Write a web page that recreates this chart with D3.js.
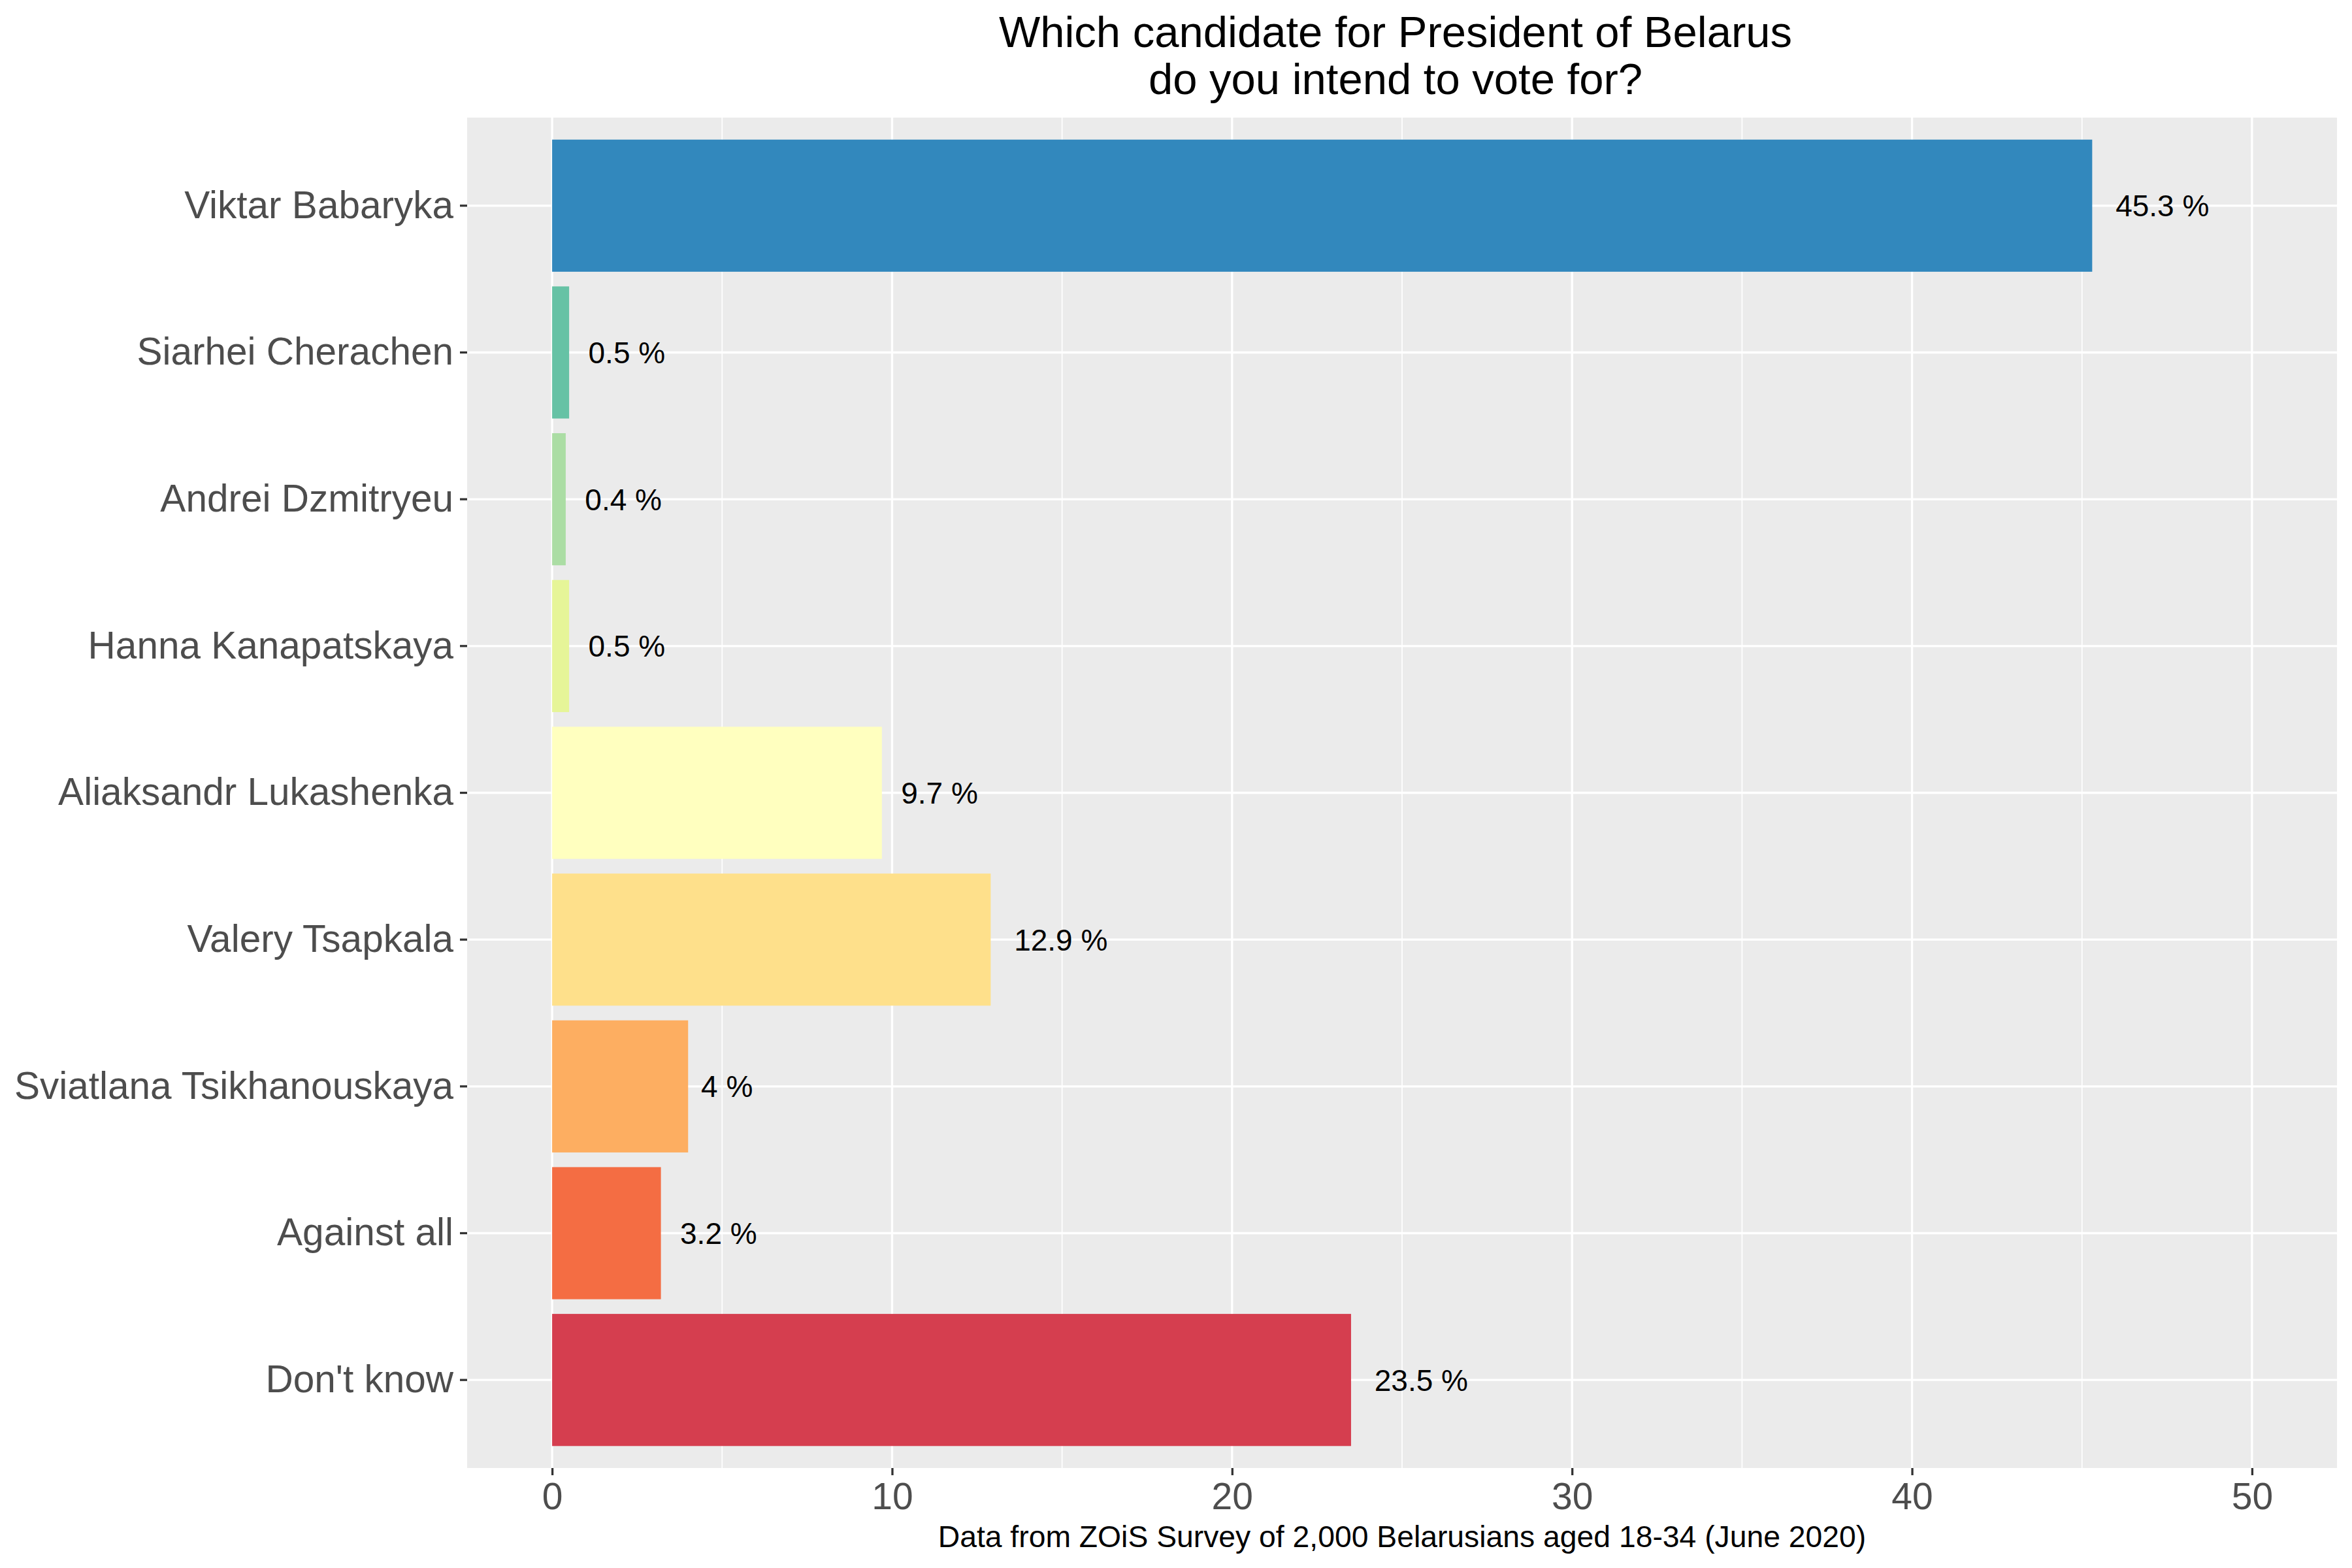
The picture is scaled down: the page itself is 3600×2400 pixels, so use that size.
<!DOCTYPE html>
<html>
<head>
<meta charset="utf-8">
<script src="https://cdn.jsdelivr.net/npm/d3@7"></script>
<style>
    body { margin: 0; background: #fff; }
    svg { display: block; font-family: "Liberation Sans", Arial, sans-serif; }
</style>
</head>
<body>
<svg id="chart"></svg>
<script>
// Data
const candidates = ["Viktar Babaryka", "Siarhei Cherachen", "Andrei Dzmitryeu", "Hanna Kanapatskaya",
    "Aliaksandr Lukashenka", "Valery Tsapkala", "Sviatlana Tsikhanouskaya", "Against all", "Don't know"];
const shares = [45.3, 0.5, 0.4, 0.5, 9.7, 12.9, 4, 3.2, 23.5];
const barColors = ["#3288BD", "#66C2A5", "#ABDDA4", "#E6F598", "#FFFFBF", "#FEE08B", "#FDAE61", "#F46D43", "#D53E4F"];
const xTicks = [0, 10, 20, 30, 40, 50];
const xMinorTicks = [5, 15, 25, 35, 45];
const titleLines = ["Which candidate for President of Belarus", "do you intend to vote for?"];
const caption = "Data from ZOiS Survey of 2,000 Belarusians aged 18-34 (June 2020)";

class VoteBarchart {
    constructor(_config) {
        this.config = {
            parentElement: _config.parentElement,
            containerWidth: _config.containerWidth || 3600,
            containerHeight: _config.containerHeight || 2400,
            margin: _config.margin || {top: 180, right: 23, bottom: 153, left: 715}
        }
        this.data = candidates.map((c, i) => ({name: c, value: shares[i], color: barColors[i]}));
        this.initVis();
    }

    initVis() {
        let vis = this;
        vis.width = vis.config.containerWidth - vis.config.margin.left - vis.config.margin.right;
        vis.height = vis.config.containerHeight - vis.config.margin.top - vis.config.margin.bottom;

        // ggplot-like expansion: 0..50 padded by 5 %
        vis.xScale = d3.scaleLinear()
            .domain([-2.5, 52.5])
            .range([0, vis.width]);

        vis.yScale = d3.scaleBand()
            .domain(candidates)
            .range([0, vis.height])
            .paddingInner(0.1)
            .paddingOuter(0.15);

        vis.svg = d3.select(vis.config.parentElement)
            .attr('width', vis.config.containerWidth)
            .attr('height', vis.config.containerHeight);

        vis.svg.append('rect')
            .attr('width', vis.config.containerWidth)
            .attr('height', vis.config.containerHeight)
            .attr('fill', '#fff');

        vis.chart = vis.svg.append('g')
            .attr('transform', `translate(${vis.config.margin.left},${vis.config.margin.top})`);

        // Panel background
        vis.chart.append('rect')
            .attr('width', vis.width)
            .attr('height', vis.height)
            .attr('fill', '#EBEBEB');

        // Grid lines
        vis.chart.selectAll('.minor-grid').data(xMinorTicks)
            .join('line')
            .attr('class', 'minor-grid')
            .attr('x1', d => vis.xScale(d)).attr('x2', d => vis.xScale(d))
            .attr('y1', 0).attr('y2', vis.height)
            .attr('stroke', '#fff').attr('stroke-width', 1.7);

        vis.chart.selectAll('.major-grid-x').data(xTicks)
            .join('line')
            .attr('class', 'major-grid-x')
            .attr('x1', d => vis.xScale(d)).attr('x2', d => vis.xScale(d))
            .attr('y1', 0).attr('y2', vis.height)
            .attr('stroke', '#fff').attr('stroke-width', 3.3);

        vis.chart.selectAll('.major-grid-y').data(candidates)
            .join('line')
            .attr('class', 'major-grid-y')
            .attr('y1', d => vis.yScale(d) + vis.yScale.bandwidth() / 2)
            .attr('y2', d => vis.yScale(d) + vis.yScale.bandwidth() / 2)
            .attr('x1', 0).attr('x2', vis.width)
            .attr('stroke', '#fff').attr('stroke-width', 3.3);

        vis.xAxis = d3.axisBottom(vis.xScale)
            .tickValues(xTicks)
            .tickSize(11)
            .tickPadding(12)
            .tickSizeOuter(0);

        vis.yAxis = d3.axisLeft(vis.yScale)
            .tickSize(11)
            .tickPadding(10)
            .tickSizeOuter(0);

        vis.xAxisG = vis.chart.append('g')
            .attr('class', 'axis x-axis')
            .attr('transform', `translate(0,${vis.height})`);

        vis.yAxisG = vis.chart.append('g')
            .attr('class', 'axis y-axis');

        // Title
        const cx = vis.config.margin.left + vis.width / 2;
        vis.svg.append('text')
            .attr('text-anchor', 'middle')
            .style('font-size', '67px')
            .attr('fill', '#000')
            .selectAll('tspan').data(titleLines)
            .join('tspan')
            .attr('x', cx - 10)
            .attr('y', (d, i) => 72 + i * 72)
            .text(d => d);

        // Caption under the x axis
        vis.svg.append('text')
            .attr('x', cx)
            .attr('y', 2368)
            .attr('text-anchor', 'middle')
            .style('font-size', '46.3px')
            .attr('fill', '#000')
            .text(caption);
    }

    renderVis() {
        let vis = this;

        vis.chart.selectAll('.bar').data(vis.data)
            .join('rect')
            .attr('class', 'bar')
            .attr('x', vis.xScale(0))
            .attr('y', d => vis.yScale(d.name))
            .attr('width', d => vis.xScale(d.value) - vis.xScale(0))
            .attr('height', vis.yScale.bandwidth())
            .attr('fill', d => d.color);

        // Value labels, nudged right by a quarter of their own width (hjust = -0.25)
        vis.chart.selectAll('.bar-label').data(vis.data)
            .join('text')
            .attr('class', 'bar-label')
            .attr('y', d => vis.yScale(d.name) + vis.yScale.bandwidth() / 2)
            .attr('dy', '0.36em')
            .style('font-size', '46px')
            .attr('fill', '#000')
            .text(d => `${d.value} %`)
            .attr('x', function(d) {
                return vis.xScale(d.value) + 0.25 * this.getComputedTextLength();
            });

        vis.xAxisG.call(vis.xAxis);
        vis.yAxisG.call(vis.yAxis);

        [vis.xAxisG, vis.yAxisG].forEach(g => {
            g.select('.domain').remove();
            g.selectAll('.tick line').attr('stroke', '#333333').attr('stroke-width', 3.3);
            g.selectAll('.tick text')
                .attr('fill', '#4D4D4D')
                .style('font-family', '"Liberation Sans", Arial, sans-serif');
        });
        vis.xAxisG.selectAll('.tick text').style('font-size', '57px');
        vis.yAxisG.selectAll('.tick text').style('font-size', '58.5px');
    }
}

const chart = new VoteBarchart({parentElement: '#chart'});
chart.renderVis();
</script>
</body>
</html>
